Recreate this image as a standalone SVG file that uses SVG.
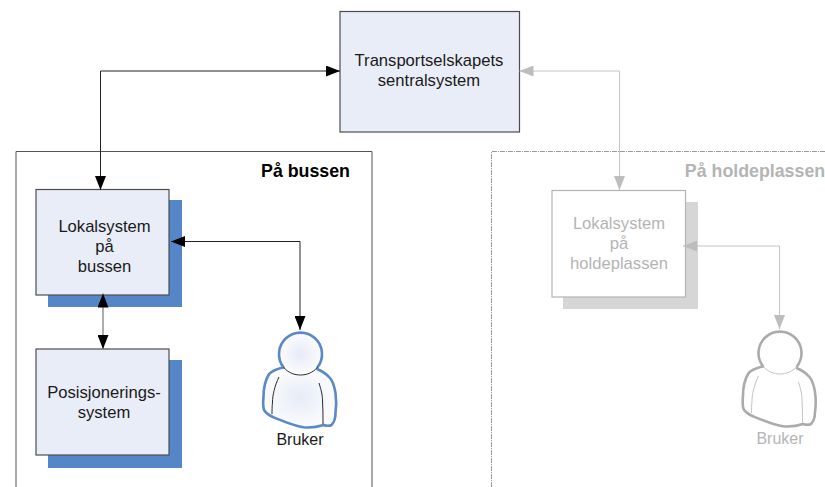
<svg xmlns="http://www.w3.org/2000/svg" width="825" height="487" viewBox="0 0 825 487">
<style>
text{font-family:"Liberation Sans",Arial,sans-serif;font-size:16.600px;text-anchor:middle;fill:#1a1a1a}
text.g{fill:#b4b4b4}
text.t{font-weight:bold;font-size:17.800px;fill:#000}
text.tg{font-weight:bold;font-size:17.800px;fill:#b4b4b4}
text.b{font-size:16px}
.box{fill:#e9edf7;stroke:#4d4d4d;stroke-width:1.200}
.sh{fill:#5586c8}
.gbox{fill:#fff;stroke:#b3b3b3;stroke-width:1.200}
.gsh{fill:#d6d6d6}
.c{fill:none;stroke:#222;stroke-width:1}
.cg{fill:none;stroke:#c4c4c4;stroke-width:1}
</style>
<defs>
<radialGradient id="hg"><stop offset="0" stop-color="#d6e2f3"/><stop offset="1" stop-color="#f6f8fc"/></radialGradient>
<radialGradient id="bg"><stop offset="0" stop-color="#e6ebf5"/><stop offset="1" stop-color="#fbfcfe"/></radialGradient>
<marker id="a" viewBox="0 0 14 11" refX="14" refY="5.500" markerWidth="14" markerHeight="11" markerUnits="userSpaceOnUse" orient="auto-start-reverse"><path d="M0 0L14 5.500L0 11Z" fill="#000"/></marker>
<marker id="ag" viewBox="0 0 14 11" refX="14" refY="5.500" markerWidth="14" markerHeight="11" markerUnits="userSpaceOnUse" orient="auto-start-reverse"><path d="M0 0L14 5.500L0 11Z" fill="#bdbdbd"/></marker>
<g id="person-shape" stroke-width="2.600" stroke-linejoin="round" stroke-linecap="round">
<path d="M-17 -8.700C-24 -7-30 -4-32 -1C-36 6-37 14-37 20.700C-37.500 26-37.500 31-36.500 34C-34 38-30 40-27 41.300C-18 45-6 50 3 51.300C11 52 17 51 23 49C26 50 29 50 31 49C33 47 35 42 35 37C36 30 36 24 35 17C34 11 33 6 29.500 2C26 -2 21 -5 17 -6.700"/>
<circle cx="0" cy="-22" r="21.500" stroke="none"/>
<path d="M-17 -8.700A21.500 21.500 0 1 1 17 -8.700" fill="none"/>
</g>
<g id="person-lines" fill="none" stroke-width="1">
<path d="M-17 -8.700C-12 -3-6 -1 0 -1C6 -1 12 -3 17 -8.700"/>
<path d="M-21.500 1C-26 10-28 20-28 26C-28.500 31-28.500 35-28.500 38M18.500 7C21 15 22 20 22 24C22.500 32 22.500 40 22.500 48"/>
</g>
</defs>
<g id="frame-bus"><path d="M16 487V151.500H372V487" fill="none" stroke="#555" stroke-width="1"/><text class="t" x="305.500" y="176.500">På bussen</text></g>
<g id="frame-holdeplass"><path d="M491.500 487V151.500H825" fill="none" stroke="#999" stroke-width="1" stroke-dasharray="5 1 1 1"/><text class="tg" x="755" y="176.500">På holdeplassen</text></g>
<g id="sentral"><rect class="box" x="340" y="11.500" width="179.500" height="120.500"/><text x="429" y="66">Transportselskapets</text><text x="429" y="86">sentralsystem</text></g>
<g id="lokal-buss"><rect class="sh" x="48" y="200" width="134" height="107"/><rect class="box" x="36" y="189.500" width="133" height="105.500"/><text x="104.500" y="231.500">Lokalsystem</text><text x="104.500" y="251.500">på</text><text x="104.500" y="271.500">bussen</text></g>
<g id="posisjon"><rect class="sh" x="48" y="360" width="134" height="108"/><rect class="box" x="36" y="349" width="133" height="106"/><text x="104" y="398">Posisjonerings-</text><text x="104" y="418">system</text></g>
<g id="lokal-holdeplass"><rect class="gsh" x="563" y="202" width="135" height="107"/><rect class="gbox" x="552" y="190.500" width="133.500" height="106.500"/><text class="g" x="619" y="229">Lokalsystem</text><text class="g" x="619" y="249">på</text><text class="g" x="619" y="269">holdeplassen</text></g>
<g id="bruker-buss"><use href="#person-shape" transform="translate(300.500 376)" fill="url(#bg)" stroke="#5b88c8"/><use href="#person-lines" transform="translate(300.500 376)" stroke="#2a2a2a"/><text class="b" x="300" y="445">Bruker</text></g>
<g id="bruker-holdeplass"><use href="#person-shape" transform="translate(780 375)" fill="#fff" stroke="#ababab"/><use href="#person-lines" transform="translate(780 375)" stroke="#c4c4c4"/><text class="b g" x="780" y="444">Bruker</text></g>
<g id="connectors">
<path class="c" d="M340 71H100.500V190" marker-start="url(#a)" marker-end="url(#a)"/>
<path class="c" d="M171 241.500H300V330" marker-start="url(#a)" marker-end="url(#a)"/>
<path d="M103 293.500V349" fill="none" stroke="#777" stroke-width="1.200" marker-start="url(#a)" marker-end="url(#a)"/>
<path class="cg" d="M519.500 71H619.500V190" marker-start="url(#ag)" marker-end="url(#ag)"/>
<path class="cg" d="M683 246H779.500V329" marker-start="url(#ag)" marker-end="url(#ag)"/>
</g>
</svg>
